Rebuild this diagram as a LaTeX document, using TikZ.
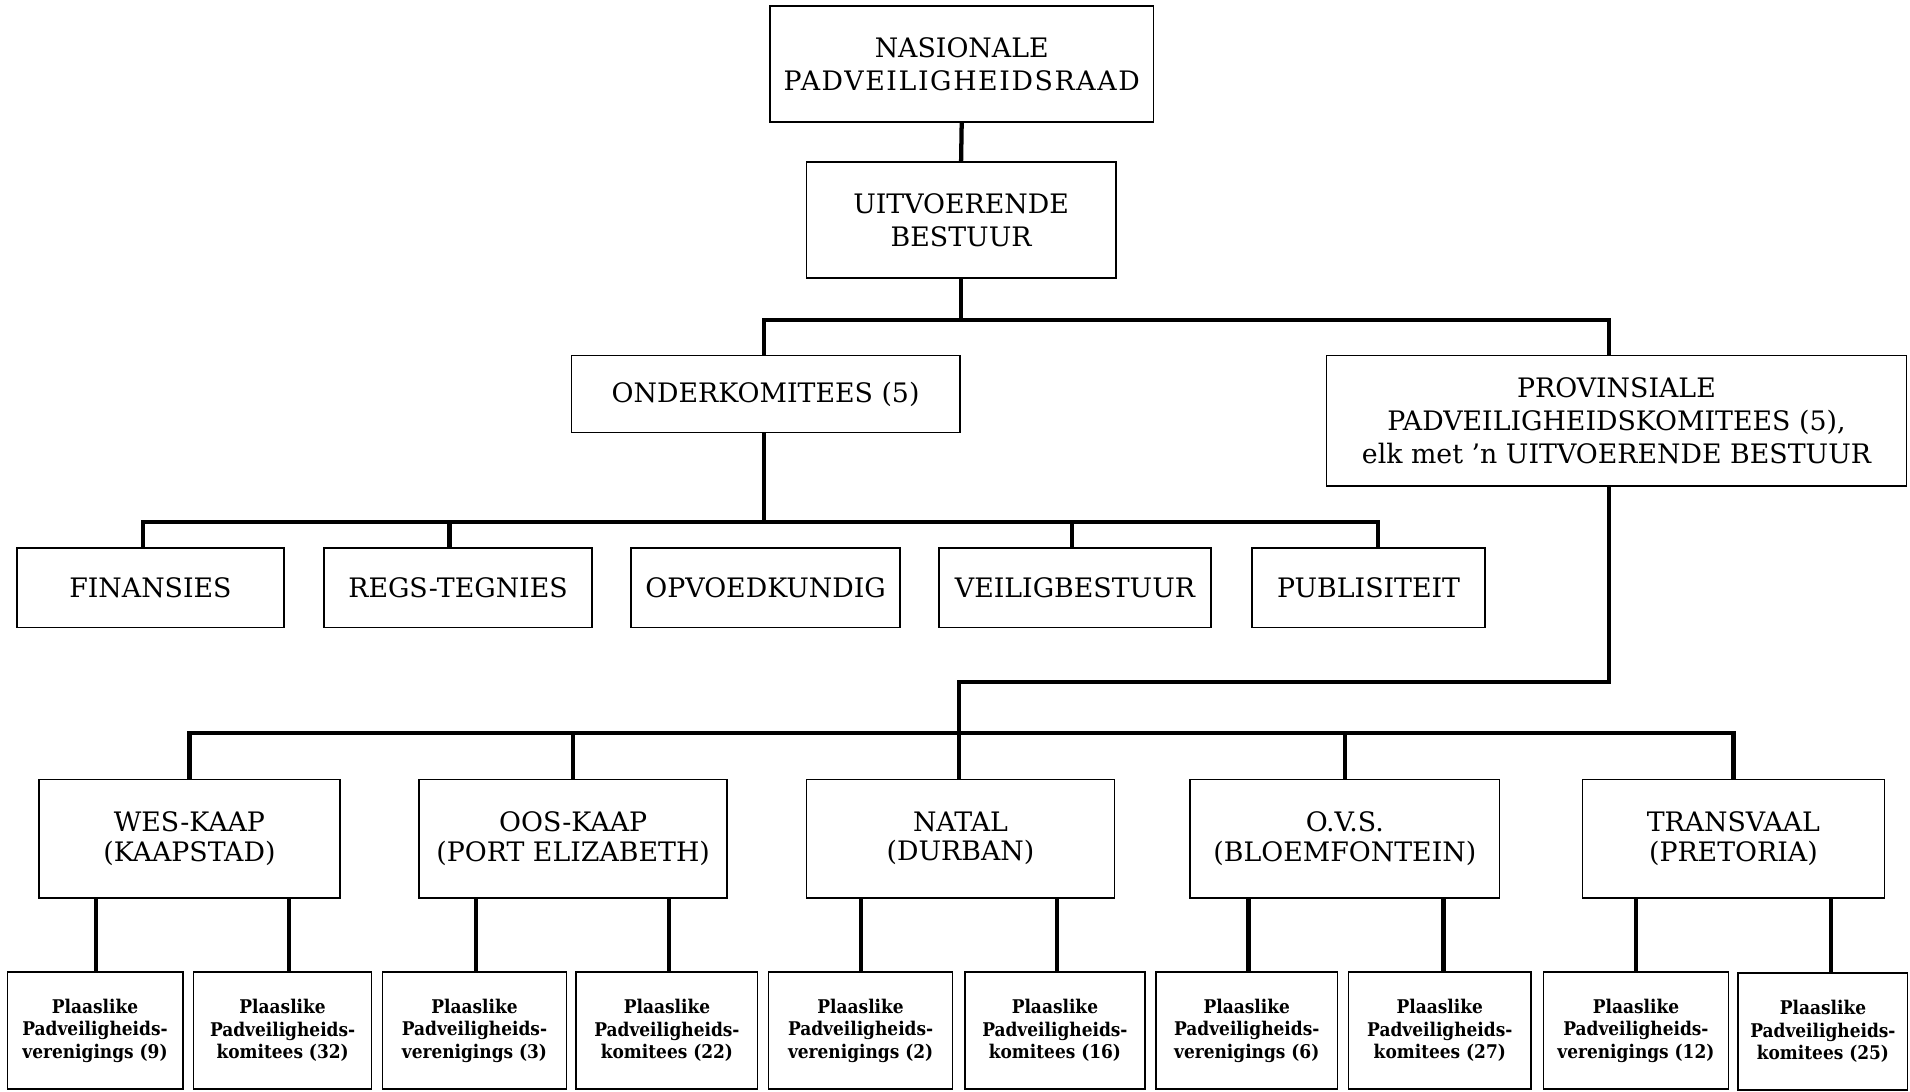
\documentclass[tikz,border=0pt]{standalone}
\usepackage{fontspec}
\setmainfont{DejaVu Serif}
\newfontfamily\smallboldfont{DejaVu Serif Condensed}
\newfontfamily\spacedfont{DejaVu Serif}[LetterSpace=6]
\begin{document}
\begin{tikzpicture}[x=1pt,y=-1pt,
  box/.style={draw, line width=1.3pt, align=center, inner sep=0pt,
    font=\fontsize{22}{27}\selectfont},
  provbox/.style={box, font=\fontsize{22}{24}\selectfont},
  leafbox/.style={draw, line width=1.3pt, align=center, inner sep=0pt,
    minimum height=96, font=\smallboldfont\bfseries\fontsize{15.5}{18.5}\selectfont},
  conn/.style={line width=3.5pt}]
\useasboundingbox (0,0) rectangle (1568,896);
\fill[white] (0,0) rectangle (1568,896);

% top levels
\node[box, minimum width=315, minimum height=95] (nas) at (789.5,52.5) {NASIONALE\\{\spacedfont PADVEILIGHEIDSRAAD}};
\node[box, minimum width=254, minimum height=95] (uit) at (789,180.5) {UITVOERENDE\\BESTUUR};
\node[box, minimum width=319, minimum height=63] (onder) at (628.5,323.5) {ONDERKOMITEES (5)};
\node[box, minimum width=476, minimum height=107] (prov) at (1327,345.5) {PROVINSIALE\\PADVEILIGHEIDSKOMITEES (5),\\elk met ’n UITVOERENDE BESTUUR};

% sub-committees
\node[box, minimum width=219, minimum height=65] (fin) at (123.5,482.5) {FINANSIES};
\node[box, minimum width=220, minimum height=65] (regs) at (376,482.5) {REGS-TEGNIES};
\node[box, minimum width=221, minimum height=65] (opv) at (628.5,482.5) {OPVOEDKUNDIG};
\node[box, minimum width=223, minimum height=65] (veil) at (882.5,482.5) {VEILIGBESTUUR};
\node[box, minimum width=191, minimum height=65] (pub) at (1123.5,482.5) {PUBLISITEIT};

% provinces
\node[provbox, minimum width=247, minimum height=97] (wk) at (155.5,688.5) {WES-KAAP\\(KAAPSTAD)};
\node[provbox, minimum width=253, minimum height=97] (ok) at (470.5,688.5) {OOS-KAAP\\(PORT ELIZABETH)};
\node[provbox, minimum width=253, minimum height=97] (nat) at (788.5,688.5) {NATAL\\(DURBAN)};
\node[provbox, minimum width=254, minimum height=97] (ovs) at (1104,688.5) {O.V.S.\\(BLOEMFONTEIN)};
\node[provbox, minimum width=248, minimum height=97] (tr) at (1423,688.5) {TRANSVAAL\\(PRETORIA)};

% local bodies
\node[leafbox, minimum width=144] (l1) at (78,846) {Plaaslike\\Padveiligheids-\\verenigings (9)};
\node[leafbox, minimum width=146] (l2) at (232,846) {Plaaslike\\Padveiligheids-\\komitees (32)};
\node[leafbox, minimum width=151] (l3) at (389.5,846) {Plaaslike\\Padveiligheids-\\verenigings (3)};
\node[leafbox, minimum width=149] (l4) at (547.5,846) {Plaaslike\\Padveiligheids-\\komitees (22)};
\node[leafbox, minimum width=151] (l5) at (706.5,846) {Plaaslike\\Padveiligheids-\\verenigings (2)};
\node[leafbox, minimum width=148] (l6) at (866,846) {Plaaslike\\Padveiligheids-\\komitees (16)};
\node[leafbox, minimum width=149] (l7) at (1023.5,846) {Plaaslike\\Padveiligheids-\\verenigings (6)};
\node[leafbox, minimum width=150] (l8) at (1182,846) {Plaaslike\\Padveiligheids-\\komitees (27)};
\node[leafbox, minimum width=152] (l9) at (1343,846) {Plaaslike\\Padveiligheids-\\verenigings (12)};
\node[leafbox, minimum width=139] (l10) at (1496.5,847) {Plaaslike\\Padveiligheids-\\komitees (25)};

% connectors
\draw[conn] (nas.south) -- (uit.north);
\draw[conn] (uit.south) -- ++(0,34) coordinate (bar1);
\draw[conn] ([xshift=-1.5pt]onder.north) |- (bar1) -| ([xshift=-6pt]prov.north);

\draw[conn] ([xshift=-1.5pt]onder.south) -- ++(0,73) coordinate (bar2);
\draw[conn] ([xshift=-6pt]fin.north) |- (bar2) -| ([xshift=7.5pt]pub.north);
\draw[conn] ([xshift=-7pt]regs.north) -- ([xshift=-7pt]regs.north |- bar2);
\draw[conn] ([xshift=-2.5pt]veil.north) -- ([xshift=-2.5pt]veil.north |- bar2);

\coordinate (jog) at (787,560);
\coordinate (bar3) at (787,602);
\draw[conn] ([xshift=-6pt]prov.south) |- (jog) -- ([xshift=-1.5pt]nat.north);
\draw[conn] (wk.north) |- (bar3) -| (tr.north);
\draw[conn] (ok.north) -- (ok.north |- bar3);
\draw[conn] (ovs.north) -- (ovs.north |- bar3);

\foreach \leaf/\prv/\dx in {l1/wk/1, l2/wk/5, l3/ok/1.5, l4/ok/1.5, l5/nat/0.5, l6/nat/2, l7/ovs/1.5, l8/ovs/3, l9/tr/0, l10/tr/6.5}{
  \draw[conn] ([xshift=\dx pt]\leaf.north) -- ([xshift=\dx pt]\leaf.north |- \prv.south);
}
\end{tikzpicture}
\end{document}
